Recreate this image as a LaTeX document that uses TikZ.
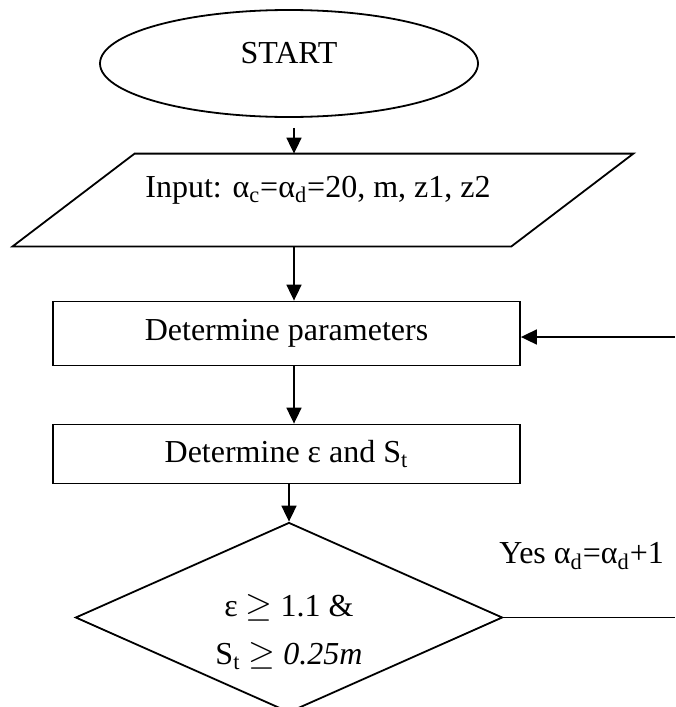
\documentclass[tikz,border=0pt]{standalone}
\usepackage{fontspec}
\setmainfont{Liberation Serif}
\usetikzlibrary{arrows.meta,shapes.geometric,positioning}

\tikzset{
  terminal/.style={ellipse, draw, line width=0.9pt, minimum width=189pt, minimum height=53.5pt, inner sep=0pt},
  io/.style={rectangle, minimum width=310pt, minimum height=46pt, inner sep=0pt},
  process/.style={rectangle, draw, line width=0.9pt, minimum width=233.5pt, inner sep=0pt},
  decision/.style={diamond, draw, line width=0.9pt, minimum width=213.5pt, minimum height=95pt, inner sep=0pt},
  conn/.style={line width=0.9pt},
  flow/.style={conn, -{Triangle[length=8pt,width=7.5pt]}}
}

\begin{document}
\begin{tikzpicture}[x=0.5pt, y=-0.5pt, on grid, font=\fontsize{16}{24}\selectfont]
  \useasboundingbox (0,0) rectangle (675,707);
  \clip (0,0) rectangle (675,707);

  \node[terminal, label={[name=starttext, yshift=5.25pt]center:START}] (start) at (289,63.5) {};
  \node[io, below right=68.25pt and 17pt of start,
        label={[name=inputtext, xshift=-2.5pt, yshift=5pt]center:{Input: α\textsubscript{c}=α\textsubscript{d}=20, m, z1, z2}}] (input) {};
  \node[process, minimum height=32pt, below left=66.75pt and 18.25pt of input] (param) {Determine parameters};
  \node[process, minimum height=29.5pt, below=60.25pt of param] (calc) {Determine ε and S\textsubscript{t}};
  \node[decision, below right=81.75pt and 1.25pt of calc] (check) {};
  \node[align=center] (checktext) at ([yshift=-7.5pt]check.center)
       {ε $\geq$ 1.1 \&\\ S\textsubscript{t} $\geq$ \textit{0.25m}};
  \node[anchor=east] (yes) at (671,556) {Yes α\textsubscript{d}=α\textsubscript{d}+1};

  % input parallelogram
  \draw[conn] (input.south west) -- ([xshift=61pt]input.north west)
              -- (input.north east) -- ([xshift=-61pt]input.south east) -- cycle;

  \coordinate (col) at (294,0);
  \coordinate (back) at (675,337);
  \coordinate (yesend) at (675,620);

  \draw[flow, shorten <=5pt] (start.south -| col) -- (input.north -| col);
  \draw[flow] (input.south -| col) -- (param.north -| col);
  \draw[flow] (param.south -| col) -- (calc.north -| col);
  \draw[flow] (calc.south -| check.north) -- (check.north);
  \draw[flow] (back) -- (back -| param.east);
  \draw[conn] (check.east) -- (check.east -| yesend);
\end{tikzpicture}
\end{document}
